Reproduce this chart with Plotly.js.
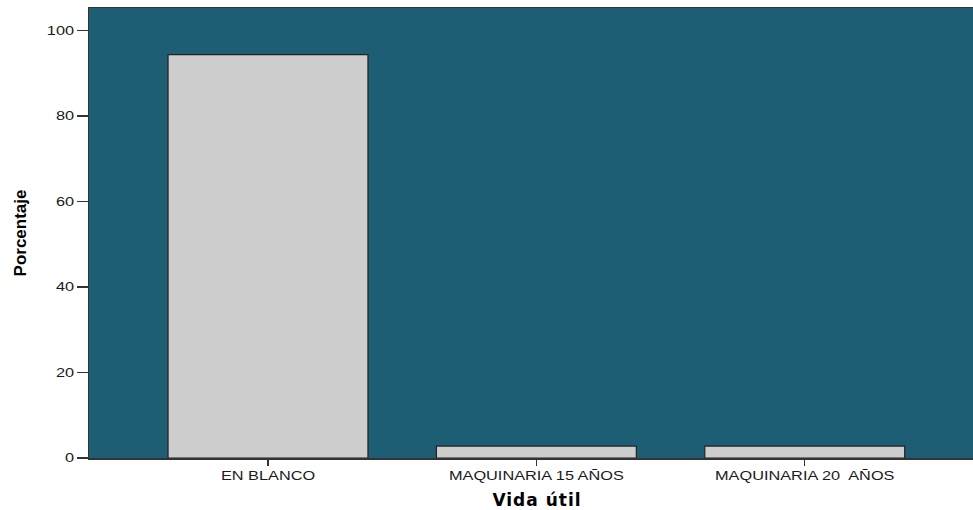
<!DOCTYPE html>
<html>
<head>
<meta charset="utf-8">
<script src="https://cdn.plot.ly/plotly-3.0.1.min.js"></script>
<style>
  html, body { margin: 0; padding: 0; background: #ffffff; }
  #chart { width: 973px; height: 510px; }
  /* horizontally widened lettering for the tick labels */
  #chart g.xtick { transform-box: fill-box; transform-origin: center; transform: scaleX(1.36); }
  #chart g.ytick { transform-box: fill-box; transform-origin: right center; transform: scaleX(1.36); }
  #chart .g-xtitle { transform: translateX(6px); }
  #chart .g-xtitle text { letter-spacing: 1px; }
</style>
</head>
<body>
<div id="chart"></div>
<script>
// Distribución porcentual de la vida útil declarada
const categories = ["EN BLANCO", "MAQUINARIA 15 AÑOS", "MAQUINARIA 20  AÑOS"];
const percentages = [94.4, 2.8, 2.8];
const yTicks = [0, 20, 40, 60, 80, 100];

const trace = {
  type: "bar",
  x: [0, 1, 2],
  y: percentages,
  width: 0.745,
  marker: {
    color: "#cdcdcd",
    line: { color: "#222222", width: 1.2 }
  },
  hoverinfo: "y"
};

const layout = {
  width: 973,
  height: 510,
  margin: { l: 89, r: 0, t: 8, b: 52 },
  paper_bgcolor: "#ffffff",
  plot_bgcolor: "#1d5e74",
  showlegend: false,
  bargap: 0,
  xaxis: {
    range: [-0.667, 2.627],
    tickmode: "array",
    tickvals: [0, 1, 2],
    ticktext: categories,
    ticks: "outside",
    ticklen: 6,
    tickwidth: 1.2,
    tickcolor: "#333333",
    showgrid: false,
    zeroline: false,
    showline: true,
    linecolor: "#333333",
    linewidth: 1.5,
    mirror: true,
    tickfont: { family: "Liberation Sans, Arial, sans-serif", size: 12, color: "#1a1a1a" },
    title: {
      text: "Vida útil",
      font: { family: "DejaVu Sans, sans-serif", size: 17, color: "#000000", weight: "bold" },
      standoff: 12
    }
  },
  yaxis: {
    range: [0, 105.3],
    tickmode: "array",
    tickvals: yTicks,
    ticktext: yTicks.map(String),
    ticks: "outside",
    ticklen: 11,
    tickwidth: 1.5,
    tickcolor: "#333333",
    showgrid: false,
    zeroline: false,
    showline: true,
    linecolor: "#333333",
    linewidth: 1.5,
    mirror: true,
    tickfont: { family: "Liberation Sans, Arial, sans-serif", size: 12, color: "#1a1a1a" },
    title: {
      text: "Porcentaje",
      font: { family: "Liberation Sans Narrow, Liberation Sans, Arial, sans-serif", size: 17, color: "#000000", weight: "bold" },
      standoff: 23
    }
  }
};

Plotly.newPlot("chart", [trace], layout, { displayModeBar: false, staticPlot: true });
</script>
</body>
</html>
